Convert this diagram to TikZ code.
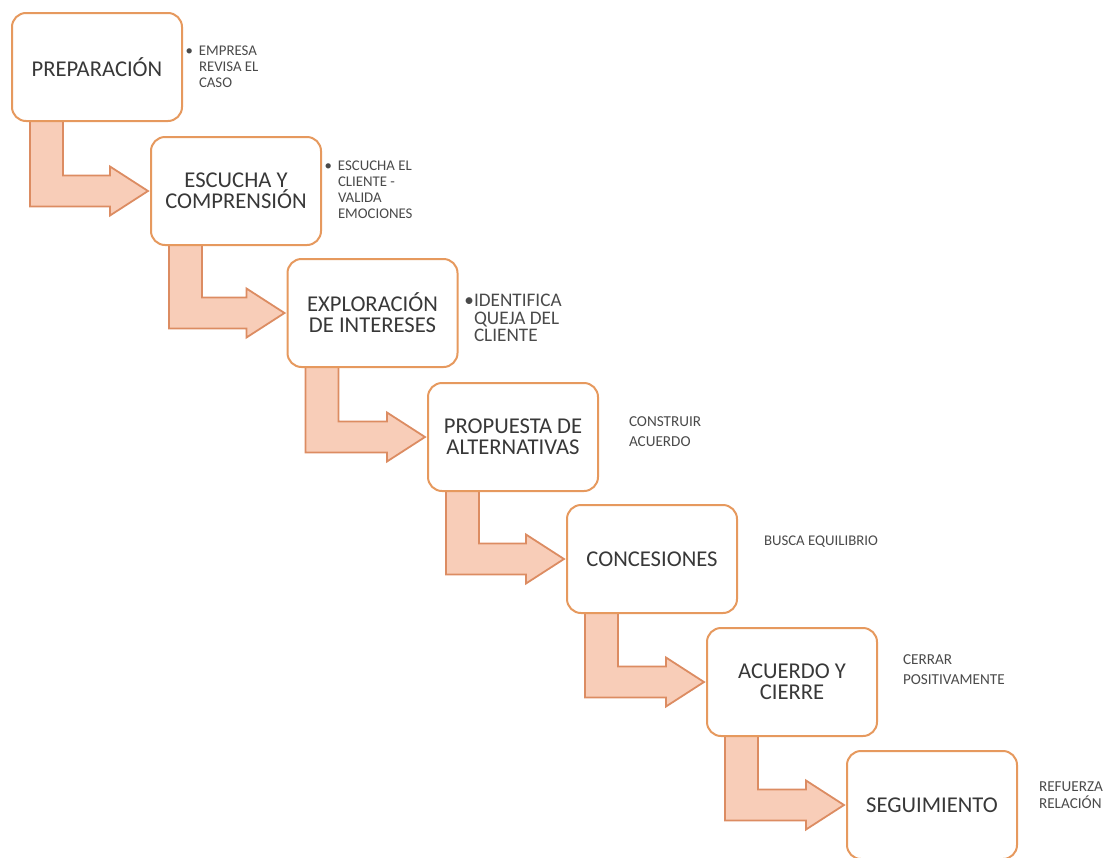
\documentclass[tikz,border=0pt]{standalone}
\usepackage{fontspec}
\setmainfont{Carlito}
\usetikzlibrary{calc,backgrounds}
\definecolor{boxline}{HTML}{E6995E}
\definecolor{arrowfill}{HTML}{F8CDB8}
\definecolor{arrowline}{HTML}{DC8C62}
\definecolor{inkgray}{HTML}{383838}
\definecolor{notegray}{HTML}{4A4A4A}

\begin{document}
\begin{tikzpicture}[x=0.5pt, y=-0.5pt, line width=1pt,
  stage/.style={draw=boxline, fill=white, rounded corners=7pt, minimum width=85pt,
    minimum height=54pt, inner sep=0pt, align=center, text=inkgray,
    font=\fontsize{11.3}{10.5}\selectfont},
  note/.style={anchor=west, align=left, inner sep=0pt, text=notegray,
    font=\fontsize{7.4}{8}\selectfont},
  bentarrow/.style={draw=arrowline, fill=arrowfill, line width=0.9pt, line join=miter}]
  \useasboundingbox (0,0) rectangle (1113,857);

  % the seven stages, stepping down to the right
  \node[stage] (prep)      at (97,67)    {PREPARACIÓN};
  \node[stage] (escucha)   at (236,191)  {ESCUCHA Y\\COMPRENSIÓN};
  \node[stage] (explor)    at (372.5,313){EXPLORACIÓN\\DE INTERESES};
  \node[stage] (propuesta) at (513,437)  {PROPUESTA DE\\ALTERNATIVAS};
  \node[stage] (conces)    at (652,559)  {CONCESIONES};
  \node[stage] (acuerdo)   at (792,682)  {ACUERDO Y\\CIERRE};
  \node[stage] (segui)     at (932,805)  {SEGUIMIENTO};

  % short notes beside each stage
  \node[note] (nprep) at (198,67) {\llap{\textbullet\hspace{3pt}}EMPRESA\\REVISA EL\\CASO};
  \node[note] (nescucha) at (337,190) {\llap{\textbullet\hspace{3pt}}ESCUCHA EL\\CLIENTE -\\VALIDA\\EMOCIONES};
  \node[note, font=\fontsize{9.6}{8.8}\selectfont] (nexplor) at (473,318)
        {\llap{\textbullet}IDENTIFICA\\QUEJA DEL\\CLIENTE};
  \node[note, font=\fontsize{7.6}{10}\selectfont] (npropuesta) at (628,432) {CONSTRUIR\\ACUERDO};
  \node[note] (nconces) at (763,542) {BUSCA EQUILIBRIO};
  \node[note, font=\fontsize{7.6}{10}\selectfont] (nacuerdo) at (902,670) {CERRAR\\POSITIVAMENTE};
  \node[note, font=\fontsize{7.6}{8.3}\selectfont] (nsegui) at (1038,795) {REFUERZA\\RELACIÓN};

  % bent arrows from each stage down into the next one (behind the boxes)
  \begin{scope}[on background layer]
    \foreach \a/\b in {prep/escucha, escucha/explor, explor/propuesta,
                       propuesta/conces, conces/acuerdo, acuerdo/segui}
      \draw[bentarrow] ($(\a.south west)+(19,-2)$) -- ($(\a.south west)+(52,-2)$)
        |- ($(\b.west)+(-40,-15.5)$) -- ($(\b.west)+(-40,-24.5)$)
        -- ($(\b.west)+(-2,0)$) -- ($(\b.west)+(-40,24.5)$)
        -- ($(\b.west)+(-40,15.5)$) -| ($(\a.south west)+(19,-2)$) -- cycle;
  \end{scope}
\end{tikzpicture}
\end{document}
